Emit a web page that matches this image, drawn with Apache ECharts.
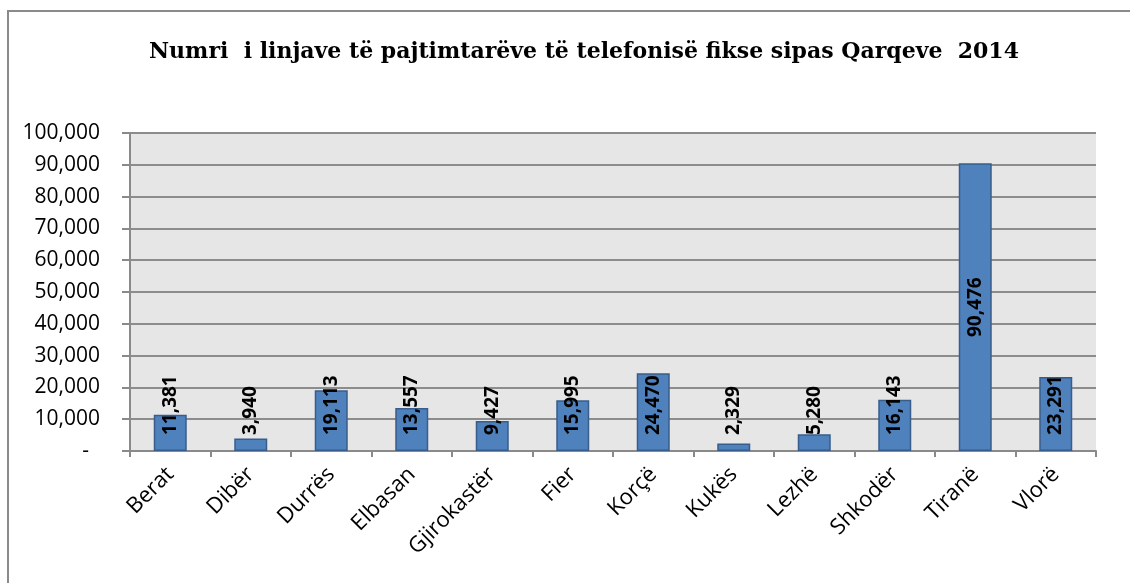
<!DOCTYPE html>
<html>
<head>
<meta charset="utf-8">
<script src="https://cdn.jsdelivr.net/npm/echarts@6/dist/echarts.min.js"></script>
<style>
  html, body { margin: 0; padding: 0; background: #fff; }
  #chart { width: 1130px; height: 583px; }
</style>
</head>
<body>
<div id="chart"></div>
<script>
// Të dhënat
const qarqet = ['Berat', 'Dibër', 'Durrës', 'Elbasan', 'Gjirokastër', 'Fier', 'Korçë', 'Kukës', 'Lezhë', 'Shkodër', 'Tiranë', 'Vlorë']
const linjat = [11381, 3940, 19113, 13557, 9427, 15995, 24470, 2329, 5280, 16143, 90476, 23291]
const titulli = 'Numri  i linjave të pajtimtarëve të telefonisë fikse sipas Qarqeve  2014'

const fmt = v => v.toLocaleString('en-US')

const chart = echarts.init(document.getElementById('chart'))

const option = {
  animation: false,
  backgroundColor: '#fff',
  graphic: [
    {
      type: 'rect',
      shape: { x: 8, y: 11, width: 1200, height: 700 },
      style: { fill: 'none', stroke: '#8a8a8a', lineWidth: 2 },
      silent: true
    }
  ],
  title: {
    text: titulli,
    left: 144,
    top: 36,
    textStyle: {
      fontFamily: 'DejaVu Serif',
      fontWeight: 'bold',
      fontSize: 22,
      color: '#000'
    }
  },
  grid: {
    left: 130,
    right: 34,
    top: 133,
    bottom: 132,
    show: true,
    backgroundColor: '#e6e6e6',
    borderWidth: 0
  },
  xAxis: {
    type: 'category',
    data: qarqet,
    axisLine: { lineStyle: { color: '#8a8a8a', width: 2 } },
    axisTick: { show: true, length: 6, lineStyle: { color: '#8a8a8a', width: 2 } },
    axisLabel: {
      rotate: 45,
      margin: 20,
      fontFamily: 'Open Sans',
      fontSize: 22,
      color: '#000',
      interval: 0
    }
  },
  yAxis: {
    type: 'value',
    min: 0,
    max: 100000,
    interval: 10000,
    axisLine: { show: true, lineStyle: { color: '#8a8a8a', width: 2 } },
    axisTick: { show: true, length: 8, lineStyle: { color: '#8a8a8a', width: 2 } },
    splitLine: { lineStyle: { color: '#8c8c8c', width: 2 } },
    axisLabel: {
      margin: 30,
      fontFamily: 'Open Sans',
      fontSize: 21,
      color: '#000',
      formatter: v => (v === 0 ? '-  ' : fmt(v))
    }
  },
  series: [
    {
      type: 'bar',
      data: linjat.map((v, i) => ({
        value: v,
        label: i === 10 ? { position: 'inside', align: 'center' } : {}
      })),
      barWidth: '41%',
      itemStyle: {
        color: '#4f81bd',
        borderColor: '#385d8a',
        borderWidth: 1.5
      },
      label: {
        show: true,
        position: 'insideBottom',
        rotate: 90,
        align: 'left',
        verticalAlign: 'middle',
        distance: 16,
        fontFamily: 'Open Sans',
        fontWeight: 'bold',
        fontSize: 19,
        color: '#000',
        formatter: p => fmt(p.value)
      }
    }
  ]
}

chart.setOption(option)
</script>
</body>
</html>
